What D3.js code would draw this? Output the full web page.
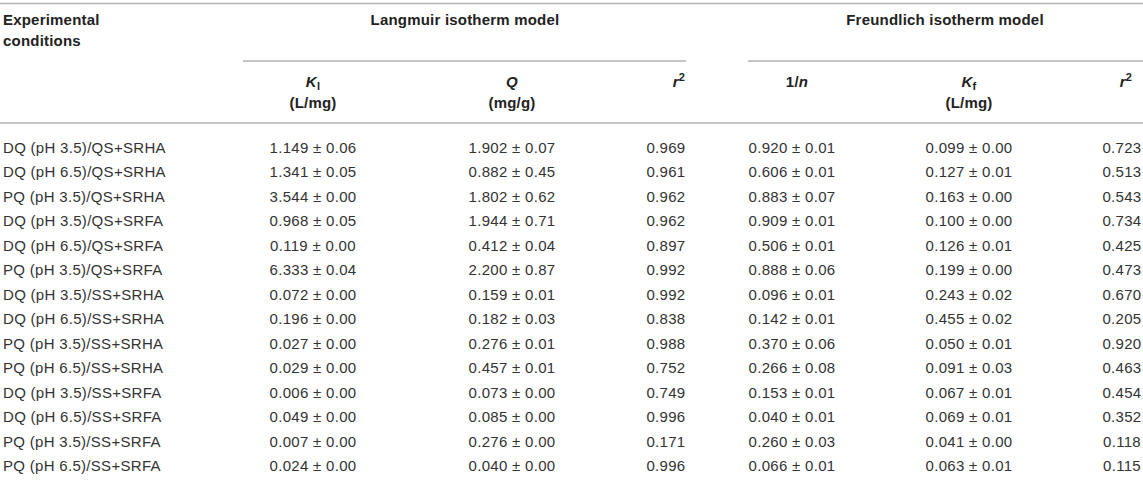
<!DOCTYPE html>
<html>
<head>
<meta charset="utf-8">
<script src="https://cdn.jsdelivr.net/npm/d3@7"></script>
<style>
  body { margin: 0; background: #fff; }
  svg text { font-family: "Liberation Sans", Arial, Helvetica, sans-serif; font-size: 15px; fill: #333; letter-spacing: 0.3px; }
  svg .head { font-weight: bold; fill: #222; letter-spacing: 0.2px; }
</style>
</head>
<body>
<div id="chart"></div>
<script>
// table data
const conditions = [
  "DQ (pH 3.5)/QS+SRHA", "DQ (pH 6.5)/QS+SRHA", "PQ (pH 3.5)/QS+SRHA",
  "DQ (pH 3.5)/QS+SRFA", "DQ (pH 6.5)/QS+SRFA", "PQ (pH 3.5)/QS+SRFA",
  "DQ (pH 3.5)/SS+SRHA", "DQ (pH 6.5)/SS+SRHA", "PQ (pH 3.5)/SS+SRHA",
  "PQ (pH 6.5)/SS+SRHA", "DQ (pH 3.5)/SS+SRFA", "DQ (pH 6.5)/SS+SRFA",
  "PQ (pH 3.5)/SS+SRFA", "PQ (pH 6.5)/SS+SRFA"
];
const klVal = [1.149, 1.341, 3.544, 0.968, 0.119, 6.333, 0.072, 0.196, 0.027, 0.029, 0.006, 0.049, 0.007, 0.024];
const klErr = [0.06, 0.05, 0.00, 0.05, 0.00, 0.04, 0.00, 0.00, 0.00, 0.00, 0.00, 0.00, 0.00, 0.00];
const qVal  = [1.902, 0.882, 1.802, 1.944, 0.412, 2.200, 0.159, 0.182, 0.276, 0.457, 0.073, 0.085, 0.276, 0.040];
const qErr  = [0.07, 0.45, 0.62, 0.71, 0.04, 0.87, 0.01, 0.03, 0.01, 0.01, 0.00, 0.00, 0.00, 0.00];
const r2Lang = [0.969, 0.961, 0.962, 0.962, 0.897, 0.992, 0.992, 0.838, 0.988, 0.752, 0.749, 0.996, 0.171, 0.996];
const invN    = [0.920, 0.606, 0.883, 0.909, 0.506, 0.888, 0.096, 0.142, 0.370, 0.266, 0.153, 0.040, 0.260, 0.066];
const invNErr = [0.01, 0.01, 0.07, 0.01, 0.01, 0.06, 0.01, 0.01, 0.06, 0.08, 0.01, 0.01, 0.03, 0.01];
const kfVal = [0.099, 0.127, 0.163, 0.100, 0.126, 0.199, 0.243, 0.455, 0.050, 0.091, 0.067, 0.069, 0.041, 0.063];
const kfErr = [0.00, 0.01, 0.00, 0.00, 0.01, 0.00, 0.02, 0.02, 0.01, 0.03, 0.01, 0.01, 0.00, 0.01];
const r2Freu = [0.723, 0.513, 0.543, 0.734, 0.425, 0.473, 0.670, 0.205, 0.920, 0.463, 0.454, 0.352, 0.118, 0.115];

const width = 1143, height = 500;
const f3 = d3.format(".3f"), f2 = d3.format(".2f");
const pm = (v, e) => f3(v) + " \u00b1 " + f2(e);

// column layout: x is the text anchor position
const columns = [
  { key: "cond", x: 3,    anchor: "start",  cell: i => conditions[i] },
  { key: "kl",   x: 313,  anchor: "middle", cell: i => pm(klVal[i], klErr[i]) },
  { key: "q",    x: 512,  anchor: "middle", cell: i => pm(qVal[i], qErr[i]) },
  { key: "r2l",  x: 666,  anchor: "middle", cell: i => f3(r2Lang[i]) },
  { key: "n",    x: 792,  anchor: "middle", cell: i => pm(invN[i], invNErr[i]) },
  { key: "kf",   x: 969,  anchor: "middle", cell: i => pm(kfVal[i], kfErr[i]) },
  { key: "r2f",  x: 1122, anchor: "middle", cell: i => f3(r2Freu[i]) }
];

const rows = d3.scaleBand().domain(d3.range(conditions.length)).range([135, 478]);

const svg = d3.select("#chart").append("svg")
  .attr("width", width).attr("height", height);

// rules
const rule = (x1, x2, y) => svg.append("line")
  .attr("x1", x1).attr("x2", x2).attr("y1", y).attr("y2", y)
  .attr("stroke", "#b3b3b3").attr("stroke-width", 1.5);
rule(0, width, 3.5);
rule(243, 686, 61);
rule(748, width, 61);
rule(0, width, 123);

// header: first level
const head = svg.append("g").attr("class", "head-g");
const ht = (x, y, anchor) => head.append("text").attr("class", "head")
  .attr("x", x).attr("y", y).attr("text-anchor", anchor);

ht(3, 25, "start").text("Experimental");
ht(3, 46, "start").text("conditions");
ht(465, 25, "middle").text("Langmuir isotherm model");
ht(945, 25, "middle").text("Freundlich isotherm model");

// header: second level
function kHeader(x, sub) {
  const t = ht(x, 87, "middle");
  t.append("tspan").attr("font-style", "italic").text("K");
  t.append("tspan").attr("font-size", "11px").attr("dy", 3).text(sub);
  ht(x, 108, "middle").text("(L/mg)");
}
function r2Header(x) {
  const t = ht(x, 87, "middle");
  t.append("tspan").attr("font-style", "italic").text("r");
  t.append("tspan").attr("font-size", "11px").attr("dy", -6).text("2");
}
kHeader(columns[1].x, "l");
const qh = ht(columns[2].x, 87, "middle");
qh.append("tspan").attr("font-style", "italic").text("Q");
ht(columns[2].x, 108, "middle").text("(mg/g)");
r2Header(columns[3].x + 13);
const nh = ht(columns[4].x + 5, 87, "middle");
nh.append("tspan").text("1/");
nh.append("tspan").attr("font-style", "italic").text("n");
kHeader(columns[5].x, "f");
r2Header(columns[6].x + 4);

// body rows
const rowG = svg.selectAll(".row")
  .data(d3.range(conditions.length))
  .join("g")
  .attr("class", "row")
  .attr("transform", i => "translate(0," + (rows(i) + rows.bandwidth() / 2) + ")");

rowG.selectAll("text")
  .data(i => columns.map(c => ({ c, i })))
  .join("text")
  .attr("x", d => d.c.x)
  .attr("dy", "0.35em")
  .attr("text-anchor", d => d.c.anchor)
  .text(d => d.c.cell(d.i));
</script>
</body>
</html>
